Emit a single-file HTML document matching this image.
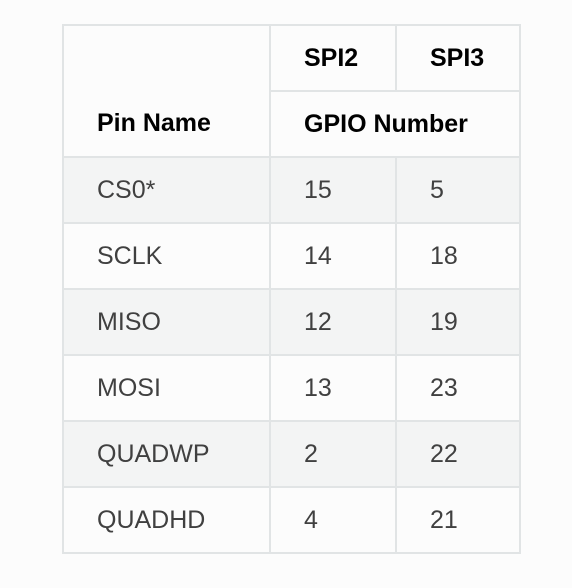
<!DOCTYPE html>
<html><head><meta charset="utf-8"><style>
body{margin:0;width:572px;height:588px;background:#fcfcfc;font-family:"Liberation Sans",sans-serif;}
table{position:absolute;left:62px;top:24px;border-collapse:collapse;table-layout:fixed;}
td,th{border:2px solid #e1e4e5;height:66px;padding:0 0 0 33px;text-align:left;font-size:25px;color:#404040;font-weight:normal;vertical-align:middle;box-sizing:border-box;}
th{font-weight:bold;color:#000;}
tr.s td{background:#f3f4f4;}
tr.w td{background:#fcfcfc;}
</style></head><body>
<table>
<colgroup><col style="width:207px"><col style="width:126px"><col style="width:124px"></colgroup>
<tr><th rowspan="2" style="vertical-align:bottom;padding-bottom:18px">Pin Name</th><th>SPI2</th><th>SPI3</th></tr>
<tr><th colspan="2">GPIO Number</th></tr>
<tr class="s"><td>CS0*</td><td>15</td><td>5</td></tr>
<tr class="w"><td>SCLK</td><td>14</td><td>18</td></tr>
<tr class="s"><td>MISO</td><td>12</td><td>19</td></tr>
<tr class="w"><td>MOSI</td><td>13</td><td>23</td></tr>
<tr class="s"><td>QUADWP</td><td>2</td><td>22</td></tr>
<tr class="w"><td>QUADHD</td><td>4</td><td>21</td></tr>
</table>
</body></html>
